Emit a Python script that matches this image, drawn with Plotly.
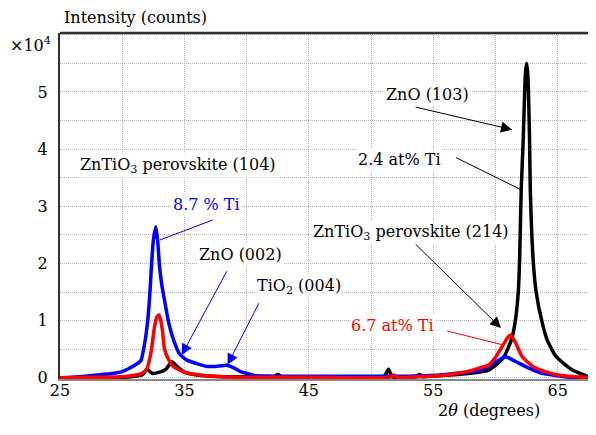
import plotly.graph_objects as go

# 2.4 at% Ti (black)
black_x = [25, 28, 30, 31, 31.6, 32.0, 32.4, 33.0, 33.5, 34.0, 34.4, 35, 36, 37, 38, 40, 42.2, 42.5, 42.8,
           45, 48, 51.0, 51.4, 51.7, 53.6, 53.9, 54.2, 55, 57, 58, 59, 59.5, 60.0, 60.69, 61.27, 61.57, 61.83,
           61.94, 62.07, 62.23, 62.4, 62.5, 62.6, 62.74, 62.8, 63.03, 63.28, 63.76, 64.16, 64.88, 66.16, 67.5, 68]
black_y = [0, 0, 0.01, 0.03, 0.05, 0.15, 0.08, 0.1, 0.15, 0.28, 0.2, 0.1, 0.05, 0.03, 0.02, 0.02, 0.02, 0.06, 0.02,
           0.01, 0.0, 0.01, 0.15, 0.02, 0.02, 0.06, 0.02, 0.03, 0.06, 0.08, 0.11, 0.14, 0.22, 0.37, 0.66, 0.96, 1.49,
           2.06, 3.29, 4.16, 5.3, 5.5, 5.3, 4.16, 3.29, 2.06, 1.49, 0.96, 0.66, 0.37, 0.14, 0.02, 0.01]

# 8.7 % Ti (blue)
blue_x = [25, 26, 28, 29, 30, 30.5, 31, 31.5, 31.8, 32.0, 32.2, 32.35, 32.5, 32.7, 32.85, 33.0, 33.2, 33.4, 33.7,
          34.0, 34.6, 35.2, 36, 36.8, 37.5, 38.4, 39, 39.6, 40.2, 40.6, 42, 45, 48, 51, 53, 54.7, 56, 57.3, 58.5,
          59.2, 60.0, 60.82, 61.5, 62.7, 63.6, 64.6, 66, 68]
blue_y = [0, 0.01, 0.05, 0.07, 0.11, 0.16, 0.22, 0.3, 0.6, 0.9, 1.4, 1.95, 2.4, 2.64, 2.4, 1.95, 1.6, 1.36, 1.0,
          0.75, 0.42, 0.31, 0.25, 0.2, 0.2, 0.22, 0.17, 0.1, 0.07, 0.04, 0.03, 0.03, 0.03, 0.03, 0.03, 0.04, 0.06,
          0.09, 0.12, 0.17, 0.28, 0.37, 0.3, 0.17, 0.09, 0.05, 0.01, 0]

# 6.7 at% Ti (red)
red_x = [25, 28, 30, 30.85, 31.5, 31.95, 32.35, 32.6, 32.8, 32.96, 33.1, 33.25, 33.4, 33.7, 34.1, 35, 36.2, 38.1,
         40, 45, 51.5, 51.8, 52.1, 54, 56, 57, 58.1, 59, 59.5, 60.0, 60.55, 60.9, 61.22, 61.6, 62.15, 63.0, 64.0,
         65.0, 66.4, 68]
red_y = [0, 0.01, 0.02, 0.04, 0.07, 0.14, 0.49, 0.9, 1.07, 1.1, 1.0, 0.8, 0.5, 0.33, 0.2, 0.1, 0.05, 0.02,
         0.01, 0.01, 0.01, 0.05, 0.01, 0.02, 0.05, 0.08, 0.13, 0.19, 0.23, 0.36, 0.55, 0.68, 0.75, 0.62, 0.37,
         0.2, 0.11, 0.05, 0.02, 0]

x_ticks = [25, 35, 45, 55, 65]
y_ticks = [0, 1, 2, 3, 4, 5]

FONT = "DejaVu Serif"
FS = 16

# page has an 8px body margin; figure is sized/offset to compensate
OFF = 8
W, H = 588, 427
L, R, T, B = 52, 1, 25, 56

fig = go.Figure()
LS = dict(shape="spline", smoothing=0.5)
fig.add_trace(go.Scatter(x=black_x, y=black_y, mode="lines", line=dict(color="black", width=3.5, **LS), name="2.4 at% Ti"))
fig.add_trace(go.Scatter(x=blue_x, y=blue_y, mode="lines", line=dict(color="#0000ff", width=3.5, **LS), name="8.7 % Ti"))
fig.add_trace(go.Scatter(x=red_x, y=red_y, mode="lines", line=dict(color="#ff0000", width=3.5, **LS), name="6.7 at% Ti"))

GC = "#b0b0b0"
GD = "1px,1px"
fig.update_layout(
    width=W, height=H,
    margin=dict(l=L, r=R, t=T, b=B),
    paper_bgcolor="white", plot_bgcolor="white",
    showlegend=False,
    font=dict(family=FONT, size=FS, color="black"),
    xaxis=dict(range=[25, 68], tickvals=x_ticks, ticktext=[str(v) for v in x_ticks],
               showline=True, linecolor="#888888", linewidth=2, zeroline=False,
               ticks="", ticklabelstandoff=-4,
               showgrid=True, gridcolor=GC, griddash=GD, gridwidth=1,
               minor=dict(dtick=5, tick0=25, showgrid=True, gridcolor=GC, griddash=GD, gridwidth=1)),
    yaxis=dict(range=[-0.02, 6.03], tickvals=y_ticks, ticktext=[str(v) for v in y_ticks],
               showline=True, linecolor="#333333", linewidth=2, zeroline=False,
               ticks="", ticklabelstandoff=7,
               showgrid=True, gridcolor=GC, griddash=GD, gridwidth=1,
               minor=dict(dtick=0.5, tick0=0, showgrid=True, gridcolor=GC, griddash=GD, gridwidth=1)),
)

# top frame line
fig.add_shape(type="line", xref="paper", yref="paper", x0=0, x1=1, y0=1, y1=1,
              line=dict(color="#333333", width=2.5))

ann = []
def text(x, y, t, color="black"):
    ann.append(dict(x=x, y=y, xref="x", yref="y", text=t, showarrow=False,
                    font=dict(family=FONT, size=FS, color=color), bgcolor="white",
                    xanchor="center", yanchor="middle"))

def arrow(x0, y0, x1, y1, color):
    ann.append(dict(x=x1, y=y1, ax=x0, ay=y0, xref="x", yref="y", axref="x", ayref="y",
                    text="", showarrow=True, arrowhead=2, arrowsize=2.2, arrowwidth=1,
                    arrowcolor=color))

def line(x0, y0, x1, y1, color):
    fig.add_shape(type="line", xref="x", yref="y", x0=x0, y0=y0, x1=x1, y1=y1,
                  line=dict(color=color, width=1))

text(54.51, 4.95, "ZnO (103)")
arrow(53.47, 4.74, 61.33, 4.34, "black")
text(52.27, 3.81, "2.4 at% Ti")
line(56.84, 3.85, 62.05, 3.29, "black")
text(53.23, 2.55, "ZnTiO<sub>3</sub> perovskite (214)")
arrow(53.47, 2.36, 60.45, 0.87, "black")
text(51.7, 0.91, "6.7 at% Ti", color="#ff0000")
line(56.11, 0.82, 60.53, 0.58, "#ff0000")
text(34.46, 3.71, "ZnTiO<sub>3</sub> perovskite (104)")
text(36.79, 3.04, "8.7 % Ti", color="#0000ff")
line(37.27, 2.76, 33.02, 2.41, "#0000ff")
text(39.51, 2.15, "ZnO (002)")
arrow(38.47, 1.89, 34.78, 0.40, "#0000ff")
text(44.17, 1.59, "TiO<sub>2</sub> (004)")
arrow(41.04, 1.33, 38.47, 0.23, "#0000ff")

# page-pixel placed labels
def page_text(px, py, t, xanchor):
    pw, ph = W - L - R, H - T - B
    ann.append(dict(x=(px - OFF - L) / pw, y=1 - (py - OFF - T) / ph, xref="paper", yref="paper",
                    text=t, showarrow=False, font=dict(family=FONT, size=FS),
                    xanchor=xanchor, yanchor="middle"))

page_text(62, 17, "Intensity (counts)", "left")
page_text(8, 45, "×10<sup>4</sup>", "left")
page_text(489, 410, "2<i>θ</i> (degrees)", "center")

fig.update_layout(annotations=ann)

fig.write_html("out.html")
